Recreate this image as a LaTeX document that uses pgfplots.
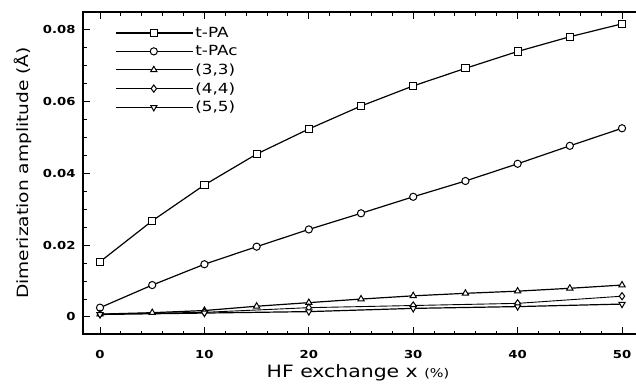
\documentclass[border=0pt]{standalone}
\usepackage{fontspec}
\setmainfont{DejaVu Sans}[FakeStretch=1.2]
\usepackage{pgfplots}
\pgfplotsset{compat=1.18}
\begin{document}
\begin{tikzpicture}
\path[use as bounding box] (0,0) rectangle (636pt,383pt);
\begin{axis}[
  at={(83pt,49pt)}, anchor=south west,
  scale only axis, width=560pt, height=322pt,
  xmin=-1.63, xmax=52.01, ymin=-0.00474, ymax=0.0850,
  xtick={0,10,20,30,40,50},
  minor x tick num=4,
  ytick={0,0.02,0.04,0.06,0.08},
  yticklabels={0,0.02,0.04,0.06,0.08},
  minor y tick num=3,
  scaled y ticks=false,
  /pgf/number format/assume math mode=true,
  tick label style={font=\fontsize{11}{13}\selectfont\bfseries},
  xticklabel style={anchor=base, yshift=-24pt},
  yticklabel style={xshift=-4pt},
  major tick length=7pt, minor tick length=3.5pt,
  tick style={black, line width=1pt},
  axis line style={line width=1.3pt},
  every axis x label/.style={at={(axis description cs:0.491,-0.1366)}, anchor=base},
  every axis y label/.style={at={(axis description cs:-0.1074,0.5)}, anchor=center, rotate=90},
  xlabel={\fontsize{17}{20}\selectfont HF exchange x \fontsize{12}{14}\selectfont(\%)},
  ylabel={\fontsize{15.5}{18}\selectfont Dimerization amplitude (Å)},
  legend style={draw=none, fill=none, at={(axis description cs:0,1)}, anchor=north west,
    xshift=32pt, yshift=-13pt, inner sep=0pt, row sep=2.6pt,
    font=\fontsize{14}{16}\selectfont, legend cell align=left},
  legend image code/.code={\draw[mark repeat=2, mark phase=2] plot coordinates {(0pt,0pt) (38pt,0pt) (77pt,0pt)};},
]
\addplot[black, line width=1.2pt, mark=square*, mark size=3.6pt, mark options={solid, fill=white, line width=1pt}] coordinates {
(0,0.0154) (5,0.0268) (10,0.0368) (15,0.0454) (20,0.0524) (25,0.0588)
(30,0.0644) (35,0.0693) (40,0.0740) (45,0.0781) (50,0.0817)};
\addlegendentry{t-PA}
\addplot[black, line width=1.2pt, mark=*, mark size=3.6pt, mark options={solid, fill=white, line width=1pt}] coordinates {
(0,0.0026) (5,0.0089) (10,0.0147) (15,0.0196) (20,0.0244) (25,0.0289)
(30,0.0335) (35,0.0379) (40,0.0427) (45,0.0477) (50,0.0526)};
\addlegendentry{t-PAc}
\addplot[black, line width=1.2pt, mark=triangle*, mark size=3.6pt, mark options={solid, fill=white, line width=1pt}] coordinates {
(0,0.0008) (5,0.0012) (10,0.0018) (15,0.0030) (20,0.0040) (25,0.0050)
(30,0.0059) (35,0.0066) (40,0.0072) (45,0.0080) (50,0.0089)};
\addlegendentry{(3,3)}
\addplot[black, line width=0.9pt, mark=diamond*, mark size=3.6pt, mark options={solid, fill=white, line width=1pt}] coordinates {
(0,0.0008) (10,0.0013) (20,0.0026) (30,0.0032) (40,0.0038) (50,0.0058)};
\addlegendentry{(4,4)}
\addplot[black, line width=1.2pt, mark=triangle*, mark size=3.6pt, mark options={solid, fill=white, line width=1pt, rotate=180}] coordinates {
(0,0.0007) (10,0.0011) (20,0.0015) (30,0.0024) (40,0.0029) (50,0.0036)};
\addlegendentry{(5,5)}
\end{axis}
\end{tikzpicture}
\end{document}
